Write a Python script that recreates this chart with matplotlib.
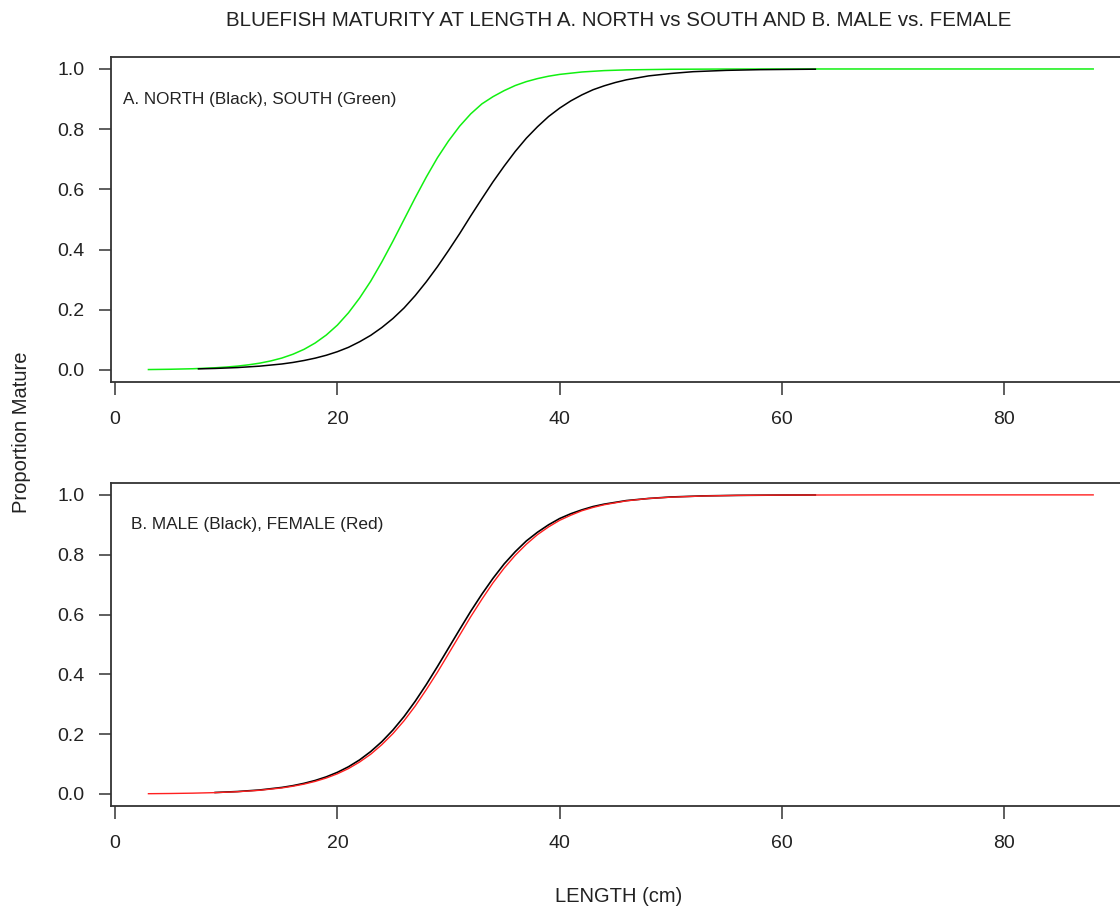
import matplotlib
matplotlib.use("Agg")
import matplotlib.pyplot as plt
from matplotlib import font_manager

# values (length in cm, proportion mature)
south_len = [3, 5, 7, 9, 10, 11, 12, 13, 14, 15, 16, 17, 18, 19, 20, 21, 22, 23, 24, 25,
             26, 27, 28, 29, 30, 31, 32, 33, 34, 35, 36, 37, 38, 39, 40, 42, 44, 46, 50,
             55, 60, 70, 80, 88]
south_mat = [0.0013, 0.0023, 0.0040, 0.0072, 0.0096, 0.0127, 0.0170, 0.0225, 0.0299, 0.0395,
             0.0522, 0.0685, 0.0895, 0.116, 0.149, 0.190, 0.239, 0.295, 0.359, 0.428,
             0.500, 0.572, 0.641, 0.705, 0.761, 0.810, 0.851, 0.884, 0.908, 0.928,
             0.945, 0.958, 0.968, 0.976, 0.982, 0.990, 0.9946, 0.997, 0.999,
             0.9998, 1.0, 1.0, 1.0, 1.0]

north_len = [7.5, 9, 11, 13, 15, 16, 17, 18, 19, 20, 21, 22, 23, 24, 25, 26, 27, 28, 29, 30,
             31, 32, 33, 34, 35, 36, 37, 38, 39, 40, 41, 42, 43, 44, 45, 46, 48, 50, 52,
             55, 58, 63]
north_mat = [0.0036, 0.0050, 0.0079, 0.0126, 0.0198, 0.0249, 0.0314, 0.0392, 0.0488, 0.0607,
             0.0752, 0.0937, 0.115, 0.141, 0.171, 0.206, 0.247, 0.293, 0.343, 0.397,
             0.453, 0.512, 0.569, 0.625, 0.677, 0.726, 0.770, 0.808, 0.842, 0.870,
             0.894, 0.914, 0.931, 0.944, 0.955, 0.964, 0.977, 0.985, 0.991,
             0.9954, 0.9977, 0.9993]

female_len = [3, 5, 7, 9, 11, 13, 15, 16, 17, 18, 19, 20, 21, 22, 23, 24, 25, 26, 27, 28,
              29, 30, 31, 32, 33, 34, 35, 36, 37, 38, 39, 40, 41, 42, 43, 44, 46, 48, 50,
              53, 56, 60, 70, 80, 88]
female_mat = [0.0010, 0.0017, 0.0028, 0.0046, 0.0076, 0.0124, 0.0203, 0.0260, 0.0331, 0.0421,
              0.0534, 0.0676, 0.0851, 0.107, 0.133, 0.165, 0.202, 0.245, 0.294, 0.349,
              0.407, 0.469, 0.531, 0.593, 0.651, 0.706, 0.755, 0.798, 0.835, 0.867,
              0.893, 0.915, 0.932, 0.947, 0.958, 0.967, 0.980, 0.988, 0.9924,
              0.9964, 0.9983, 0.9994, 1.0, 1.0, 1.0]

male_len = [9, 11, 13, 15, 16, 17, 18, 19, 20, 21, 22, 23, 24, 25, 26, 27, 28, 29, 30, 31,
            32, 33, 34, 35, 36, 37, 38, 39, 40, 41, 42, 43, 44, 46, 48, 50, 53, 56, 60, 63]
male_mat = [0.0050, 0.0082, 0.0134, 0.0219, 0.0279, 0.0356, 0.0452, 0.0573, 0.0724, 0.0911,
            0.114, 0.142, 0.175, 0.214, 0.259, 0.310, 0.366, 0.426, 0.488, 0.550,
            0.611, 0.668, 0.721, 0.769, 0.810, 0.846, 0.875, 0.900, 0.921, 0.937,
            0.950, 0.961, 0.969, 0.981, 0.988, 0.9930, 0.9967, 0.9984, 0.9994, 0.9997]

x_ticks = [0, 20, 40, 60, 80]
y_ticks = [0.0, 0.2, 0.4, 0.6, 0.8, 1.0]

plt.rcParams['font.family'] = ['Liberation Sans', 'DejaVu Sans']
names = {f.name for f in font_manager.fontManager.ttflist}
title_font = 'Liberation Sans Narrow' if 'Liberation Sans Narrow' in names else 'Liberation Sans'

fig = plt.figure(figsize=(11.2, 9.11), dpi=100)
ax_a = fig.add_axes([0.0988, 0.5807, 0.911, 0.3568])
ax_b = fig.add_axes([0.0988, 0.1153, 0.911, 0.3546])

for ax in (ax_a, ax_b):
    ax.set_xlim(-0.4, 91.4)
    ax.set_ylim(-0.04, 1.04)
    ax.set_xticks(x_ticks)
    ax.set_yticks(y_ticks)
    ax.set_yticklabels([f"{v:.1f}" for v in y_ticks])
    ax.tick_params(direction='out', length=9, width=1.1, color='#333333',
                   labelsize=14, labelcolor='#222222')
    ax.tick_params(axis='x', pad=12)
    ax.tick_params(axis='y', pad=10)
    for sp in ax.spines.values():
        sp.set_linewidth(1.3)
        sp.set_color('#333333')

ax_a.plot(south_len, south_mat, color='#11f011', lw=1.1)
ax_a.plot(north_len, north_mat, color='black', lw=1.1)
ax_a.text(0.7, 0.9, "A. NORTH (Black), SOUTH (Green)", fontsize=12.3,
          ha='left', va='center', color='#222222')

ax_b.plot(male_len, male_mat, color='black', lw=1.2)
ax_b.plot(female_len, female_mat, color='#ff2020', lw=1.0)
ax_b.text(1.4, 0.9, "B. MALE (Black), FEMALE (Red)", fontsize=12.4,
          ha='left', va='center', color='#222222')

fig.text(619 / 1120, 1 - 20 / 911, "BLUEFISH MATURITY AT LENGTH A. NORTH vs SOUTH AND B. MALE vs. FEMALE",
         family=title_font, fontsize=14.75, ha='center', va='center', color='#222222')
fig.text(619 / 1120, 1 - 897 / 911, "LENGTH (cm)", fontsize=14.5, ha='center', va='center',
         color='#222222')
fig.text(22 / 1120, 1 - 432 / 911, "Proportion Mature", fontsize=14.5, rotation=90,
         ha='center', va='center', color='#222222')

fig.savefig("out.png", dpi=100)
